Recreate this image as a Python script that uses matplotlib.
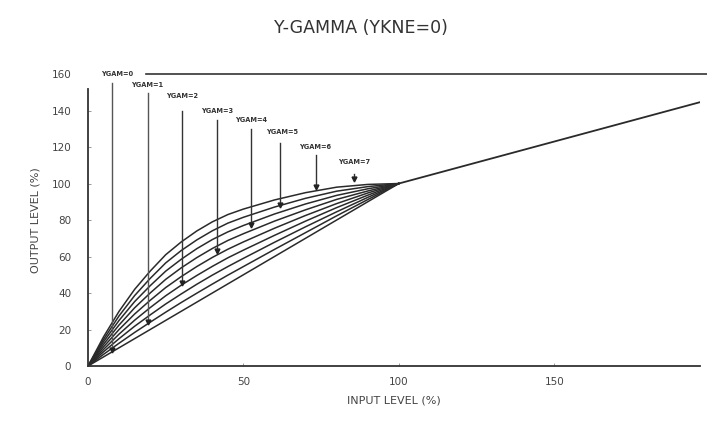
import matplotlib
matplotlib.use("Agg")
import matplotlib.pyplot as plt

# input level (%) sample points for the gamma curves
x_in = [0, 5, 10, 15, 20, 25, 30, 35, 40, 45, 50, 60, 70, 80, 90, 100]

# output level (%) for each curve, lowest (linear) to highest
curves = [
    [0, 5, 10, 15, 20, 25, 30, 35, 40, 45, 50, 60, 70, 80, 90, 100],
    [0, 6.4, 12.5, 18.4, 24, 29.5, 34.8, 39.9, 44.9, 49.8, 54.5, 63.9, 73.1, 82.3, 91.2, 100],
    [0, 7.8, 15, 21.8, 28, 34, 39.5, 44.8, 49.8, 54.5, 59, 67.8, 76.3, 84.5, 92.4, 100],
    [0, 9.1, 17.5, 25.1, 32, 38.5, 44.3, 49.6, 54.6, 59.3, 63.5, 71.6, 79.4, 86.8, 93.6, 100],
    [0, 10.5, 20, 28.5, 36, 43, 49, 54.5, 59.5, 64, 68, 75.5, 82.5, 89, 94.8, 100],
    [0, 11.9, 22.5, 31.9, 40, 47.5, 53.8, 59.4, 64.4, 68.8, 72.5, 79.4, 85.6, 91.3, 95.9, 100],
    [0, 13.3, 25, 35.3, 44, 52, 58.5, 64.3, 69.3, 73.5, 77, 83.3, 88.8, 93.5, 97.1, 100],
    [0, 14.6, 27.5, 38.6, 48, 56.5, 63.3, 69.1, 74.1, 78.3, 81.5, 87.1, 91.9, 95.8, 98.3, 100],
    [0, 16, 30, 42, 52, 61, 68, 74, 79, 83, 86, 91, 95, 98, 99.5, 100],
]

# common straight part above 100 %
x_hi = [100, 200]
y_hi = [100, 146]

# YGAM labels and the arrows pointing at the curves
labels = ["YGAM=0", "YGAM=1", "YGAM=2", "YGAM=3", "YGAM=4", "YGAM=5", "YGAM=6", "YGAM=7"]
label_x = [9.4, 19, 30.3, 41.6, 52.6, 62.3, 73.2, 85.5]
label_y = [160, 154, 148, 140, 135, 128, 120, 112]
arrow_x = [7.6, 19.3, 30.2, 41.5, 52.3, 61.8, 73.2, 85.5]
arrow_top = [155, 149.6, 140, 135, 130, 122, 115.5, 105]
arrow_tip = [8.8, 24.3, 45.3, 63, 77.3, 88, 98, 102.5]

fig = plt.figure(figsize=(7.07, 4.25), dpi=100)
ax = fig.add_axes([0.1245, 0.1388, 0.866, 0.687])

line_col = "#2a2a2a"
for ys in curves:
    ax.plot(x_in, ys, color=line_col, lw=1.1)
ax.plot(x_hi, y_hi, color=line_col, lw=1.3)

for i in range(len(labels)):
    ax.text(label_x[i], label_y[i], labels[i], fontsize=4.8, fontweight="bold",
            color="#333333", ha="center", va="center")
    ax.plot([arrow_x[i], arrow_x[i]], [arrow_top[i], arrow_tip[i] + 1.5],
            color="#555555" if i < 2 else "#333333", lw=1.0)
    ax.plot(arrow_x[i], arrow_tip[i], marker="v", ms=3.5, color="#222222", mec="#222222")

# horizontal rule at the top
ax.plot([18.5, 200], [160, 160], color="#333333", lw=1.2, clip_on=False)

ax.set_xlim(0, 197)
ax.set_ylim(0, 160)
ax.spines["top"].set_visible(False)
ax.spines["right"].set_visible(False)
ax.spines["left"].set_bounds(0, 152)
ax.spines["left"].set_color("#333333")
ax.spines["bottom"].set_color("#333333")
ax.spines["left"].set_linewidth(1.3)
ax.spines["bottom"].set_linewidth(1.3)

ax.set_xticks([0, 50, 100, 150])
ax.set_yticks([0, 20, 40, 60, 80, 100, 120, 140, 160])
ax.tick_params(direction="in", length=2, width=0.6, colors="#888888", labelcolor="#444444",
               labelsize=7.5, pad=8)
ax.tick_params(axis="y", pad=12)
ax.yaxis.get_major_ticks()[-1].tick1line.set_visible(False)

ax.set_xlabel("INPUT LEVEL (%)", fontsize=8, color="#444444", labelpad=6)
ax.set_ylabel("OUTPUT LEVEL (%)", fontsize=8, color="#444444", labelpad=8)
fig.text(0.51, 0.935, "Y-GAMMA (YKNE=0)", fontsize=12.5, color="#333333", ha="center", va="center")

fig.savefig("out.png", dpi=100, facecolor="white")
